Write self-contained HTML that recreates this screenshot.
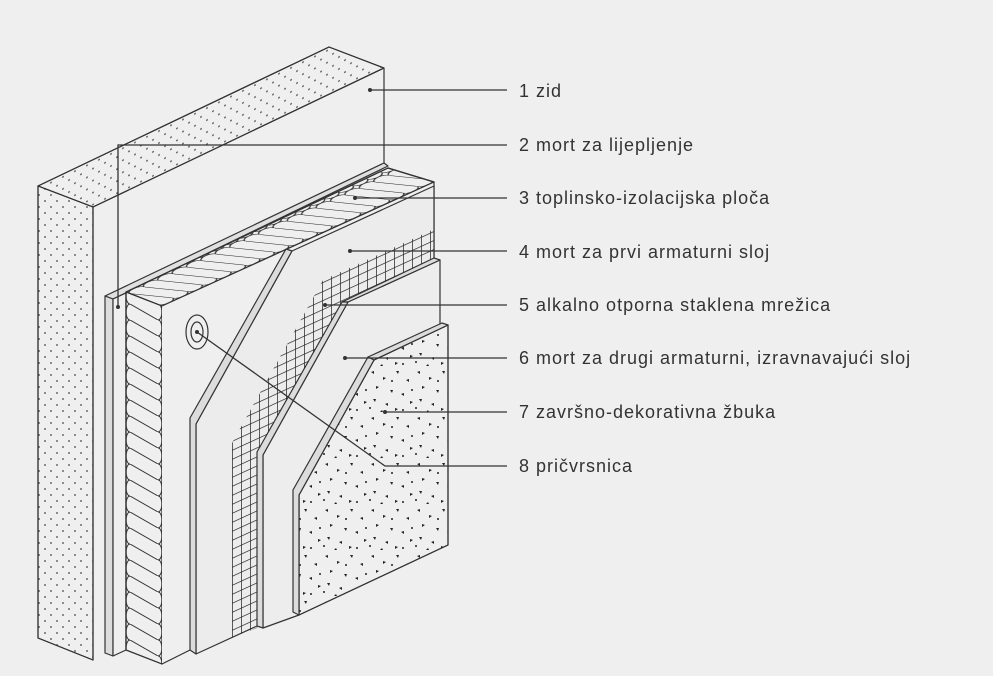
<!DOCTYPE html>
<html><head><meta charset="utf-8"><style>
html,body{margin:0;padding:0;background:#efefef;}
svg{display:block}
text{font-family:"Liberation Sans",sans-serif;font-size:18px;letter-spacing:1px;fill:#333;}
</style></head><body>
<svg width="993" height="676" viewBox="0 0 993 676" xmlns="http://www.w3.org/2000/svg">
<defs>
<pattern id="dots" width="12" height="12" patternUnits="userSpaceOnUse">
<circle cx="3" cy="3" r="0.9" fill="#444"/><circle cx="9" cy="9" r="0.9" fill="#444"/>
</pattern>
<pattern id="dotsTop" width="12" height="12" patternUnits="userSpaceOnUse" patternTransform="matrix(1,-0.478,0,1,0,0)">
<circle cx="3" cy="3" r="0.9" fill="#444"/><circle cx="9" cy="9" r="0.9" fill="#444"/>
</pattern>
<pattern id="insSide" x="126" y="0" width="36" height="16" patternUnits="userSpaceOnUse">
<path d="M4,0 A4,8 0 0 0 4,16 M32,0 A4,8 0 0 1 32,16 M4,0 L32,16" fill="none" stroke="#333" stroke-width="1"/>
</pattern>
<pattern id="insTop" width="36" height="16" patternUnits="userSpaceOnUse" patternTransform="matrix(1,0.389,0.9,-0.41,126,292)">
<path d="M4,0 A4,8 0 0 0 4,16 M32,0 A4,8 0 0 1 32,16 M4,0 L32,16" fill="none" stroke="#333" stroke-width="1"/>
</pattern>
<pattern id="mesh" width="9" height="9" patternUnits="userSpaceOnUse" patternTransform="matrix(1,-0.46,0,1,232,0)">
<path d="M0,0 V9 M0,0 H9" stroke="#222" stroke-width="1.4" fill="none"/>
</pattern>
<pattern id="speck" width="46" height="46" patternUnits="userSpaceOnUse">
<g fill="#222">
<path d="M3,4 l3,-1 0,3z"/><path d="M15,9 l3,1 -3,2z"/><path d="M28,3 l3,0 -1,3z"/><path d="M38,12 l3,-1 0,3z"/>
<path d="M8,18 l3,1 -3,2z"/><path d="M22,22 l3,0 -1,3z"/><path d="M33,26 l3,-1 0,3z"/><path d="M42,33 l3,1 -3,2z"/>
<path d="M5,31 l3,0 -1,3z"/><path d="M17,36 l3,-1 0,3z"/><path d="M27,40 l3,1 -3,2z"/><path d="M12,44 l3,0 -1,-2z"/>
<circle cx="35" cy="42" r="1"/><circle cx="24" cy="13" r="1"/><circle cx="44" cy="22" r="1"/><circle cx="2" cy="40" r="1"/>
</g>
</pattern>
<clipPath id="topclip"><polygon points="126,292 388,168 434,182 162,306"/></clipPath>
</defs>
<g stroke="#333" stroke-width="1.2" stroke-linejoin="round">
<!-- wall -->
<polygon points="38,186 329,47 384,68 93,207" fill="#efefef"/>
<polygon points="38,186 329,47 384,68 93,207" fill="url(#dotsTop)"/>
<polygon points="38,186 93,207 93,660 38,638" fill="#efefef"/>
<polygon points="38,186 93,207 93,660 38,638" fill="url(#dots)"/>
<line x1="384" y1="68" x2="384" y2="164"/>
<!-- glue -->
<polygon points="105,296 384,163 388,166 113,299" fill="#e0e0e0"/>
<polygon points="105,296 113,299 113,656 105,653" fill="#dcdcdc"/>
<polygon points="113,299 126,293 126,650 113,656" fill="#efefef"/>
<!-- insulation -->
<polygon points="126,292 388,168 434,182 162,306" fill="#efefef"/>
<rect x="120" y="160" width="320" height="150" fill="url(#insTop)" stroke="none" clip-path="url(#topclip)"/>
<polygon points="126,292 388,168 434,182 162,306" fill="none"/>
<polygon points="126,292 162,306 162,664 126,650" fill="#efefef"/>
<polygon points="126,292 162,306 162,664 126,650" fill="url(#insSide)"/>
<polygon points="162,306 434,182 434,262 196,654 162,664" fill="#efefef" stroke="none"/>
<polyline points="162,306 434,182 434,262" fill="none"/>
<polyline points="162,664 190,650" fill="none"/>
<!-- layer 4 -->
<polygon points="196,654 196,424 292,251 434,186 434,262 257,626" fill="#ececec"/>
<polygon points="190,650 190,418 286,249 292,251 196,424 196,654" fill="#dcdcdc"/>
<!-- mesh -->
<polygon points="232,637 232,443 323,280 434,229 434,420 257,628" fill="url(#mesh)" stroke="none"/>
<!-- layer 5 -->
<polygon points="263,628 263,455 348,302 440,260 440,330 299,615" fill="#ededed"/>
<polygon points="342,302 434,258 440,260 348,302" fill="#dcdcdc"/>
<polygon points="257,626 257,452 342,302 348,302 263,455 263,628" fill="#dcdcdc"/>
<!-- layer 6 -->
<polygon points="299,615 299,495 374,360 448,325 448,545" fill="#efefef"/>
<polygon points="299,615 299,495 374,360 448,325 448,545" fill="url(#speck)"/>
<polygon points="368,357 442,323 448,325 374,360" fill="#dcdcdc"/>
<polygon points="293,612 293,490 368,357 374,360 299,495 299,615" fill="#dcdcdc"/>
<!-- fixing -->
<ellipse cx="197" cy="332" rx="11" ry="17" fill="#efefef"/>
<ellipse cx="197" cy="332" rx="6" ry="10" fill="none"/>
</g>
<!-- leaders -->
<g stroke="#333" stroke-width="1.3" fill="none">
<line x1="370" y1="90" x2="507" y2="90"/>
<polyline points="118,307 118,145 507,145"/>
<line x1="355" y1="198" x2="507" y2="198"/>
<line x1="350" y1="251" x2="507" y2="251"/>
<line x1="325" y1="305" x2="507" y2="305"/>
<line x1="345" y1="358" x2="507" y2="358"/>
<line x1="385" y1="412" x2="507" y2="412"/>
<polyline points="197,332 385,466 507,466"/>
</g>
<g fill="#333">
<circle cx="370" cy="90" r="2"/><circle cx="118" cy="307" r="2"/><circle cx="355" cy="198" r="2"/>
<circle cx="350" cy="251" r="2"/><circle cx="325" cy="305" r="2"/><circle cx="345" cy="358" r="2"/>
<circle cx="385" cy="412" r="2"/><circle cx="197" cy="332" r="2"/>
</g>
<text x="519" y="97">1 zid</text>
<text x="519" y="151">2 mort za lijepljenje</text>
<text x="519" y="204">3 toplinsko-izolacijska ploča</text>
<text x="519" y="258">4 mort za prvi armaturni sloj</text>
<text x="519" y="311">5 alkalno otporna staklena mrežica</text>
<text x="519" y="364">6 mort za drugi armaturni, izravnavajući sloj</text>
<text x="519" y="418">7 završno-dekorativna žbuka</text>
<text x="519" y="472">8 pričvrsnica</text>
</svg>
</body></html>
